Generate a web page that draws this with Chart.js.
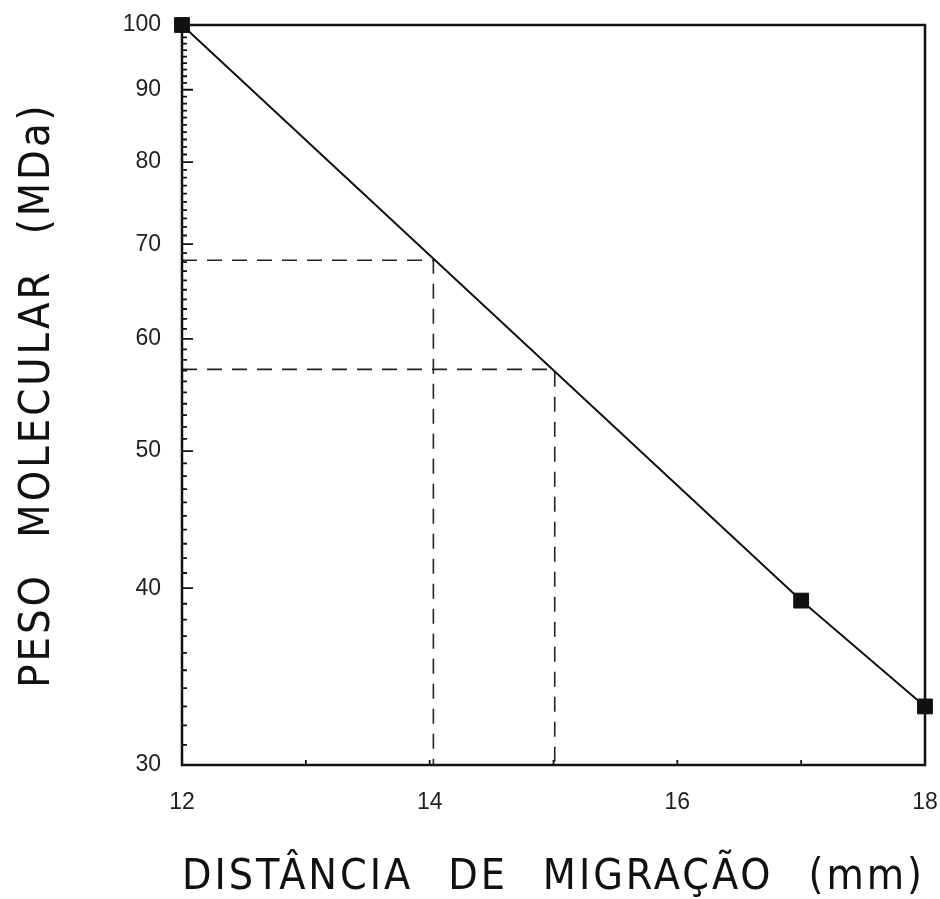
<!DOCTYPE html>
<html>
<head>
<meta charset="utf-8">
<script src="https://cdn.jsdelivr.net/npm/chart.js@4.4.1/dist/chart.umd.min.js"></script>
<style>
html,body{margin:0;padding:0;background:#fff;}
#wrap{width:940px;height:899px;position:relative;}
</style>
</head>
<body>
<div id="wrap"><canvas id="c" width="940" height="899"></canvas></div>
<script>
// Data
const distances = [12, 17, 18];            // mm
const weights   = [100, 39.2, 33.0];       // MDa
const guideA = [[12, 68.2], [14.03, 68.2], [14.03, 30]];
const guideB = [[12, 57.1], [15.01, 57.1], [15.01, 30]];
const xTicks = [12, 14, 16, 18];
const yTicks = [30, 40, 50, 60, 70, 80, 90, 100];
const xTitle = 'DISTÂNCIA DE MIGRAÇÃO (mm)';
const yTitle = 'PESO MOLECULAR (MDa)';

const toXY = arr => arr.map(p => ({x: p[0], y: p[1]}));

const spacing = {
  id: 'spacing',
  beforeDraw(chart) {
    chart.ctx.letterSpacing = '3px';
    chart.ctx.wordSpacing = '20px';
  },
  beforeDatasetsDraw(chart) {
    chart.ctx.letterSpacing = '0px';
    chart.ctx.wordSpacing = '0px';
  }
};

const frame = {
  id: 'frame',
  afterDatasetsDraw(chart) {
    const ctx = chart.ctx, a = chart.chartArea;
    const xs = chart.scales.x, ys = chart.scales.y;
    ctx.save();
    ctx.strokeStyle = '#111';
    ctx.lineWidth = 2.5;
    ctx.strokeRect(a.left, a.top, a.right - a.left, a.bottom - a.top);
    ctx.lineWidth = 1.8;
    ctx.beginPath();
    for (let v = 30; v <= 100; v++) {
      const y = ys.getPixelForValue(v);
      const len = (v % 10 === 0) ? 11 : 5;
      ctx.moveTo(a.left, y); ctx.lineTo(a.left + len, y);
    }
    for (let v = 13; v <= 17; v++) {
      const x = xs.getPixelForValue(v);
      ctx.moveTo(x, a.bottom); ctx.lineTo(x, a.bottom - 5);
    }
    ctx.stroke();
    ctx.restore();
  }
};

const tickFont = {family: 'Liberation Sans', size: 23};
const titleFont = {family: 'DejaVu Sans Condensed', size: 43, lineHeight: 1};

new Chart(document.getElementById('c'), {
  type: 'line',
  data: {
    datasets: [
      {
        data: distances.map((d, i) => ({x: d, y: weights[i]})),
        borderColor: '#111', borderWidth: 2,
        pointStyle: 'rect', pointRadius: 10.5, pointBackgroundColor: '#111',
        pointBorderColor: '#111', pointBorderWidth: 1, clip: false, order: 0
      },
      {
        data: toXY(guideA), borderColor: '#222', borderWidth: 1.6,
        borderDash: [15, 10], pointRadius: 0, order: 1
      },
      {
        data: toXY(guideB), borderColor: '#222', borderWidth: 1.6,
        borderDash: [15, 10], pointRadius: 0, order: 1
      }
    ]
  },
  options: {
    responsive: false,
    animation: false,
    layout: {padding: {top: 25, right: 15, left: 0, bottom: 0}},
    plugins: {legend: {display: false}, tooltip: {enabled: false}},
    scales: {
      x: {
        type: 'linear', min: 12, max: 18,
        afterBuildTicks: s => { s.ticks = xTicks.map(v => ({value: v})); },
        afterFit: s => { s.height = 134; s.paddingLeft = 0; s.paddingRight = 0; },
        grid: {display: false, drawTicks: false, z: -1},
        border: {display: false},
        ticks: {color: '#222', padding: 24, font: tickFont, z: 1},
        title: {display: true, text: xTitle, color: '#111', font: titleFont,
                padding: {top: 0, bottom: 0}}
      },
      y: {
        type: 'logarithmic', min: 30, max: 100,
        afterBuildTicks: s => { s.ticks = yTicks.map(v => ({value: v})); },
        afterFit: s => { s.width = 182; s.paddingTop = 0; s.paddingBottom = 0; },
        grid: {display: false, drawTicks: false, z: -1},
        border: {display: false},
        ticks: {color: '#222', padding: 21, font: tickFont, z: 1,
                callback: v => String(v)},
        title: {display: true, text: yTitle, color: '#111', font: titleFont,
                padding: {top: 16, bottom: 0}}
      }
    }
  },
  plugins: [spacing, frame]
});
</script>
</body>
</html>
